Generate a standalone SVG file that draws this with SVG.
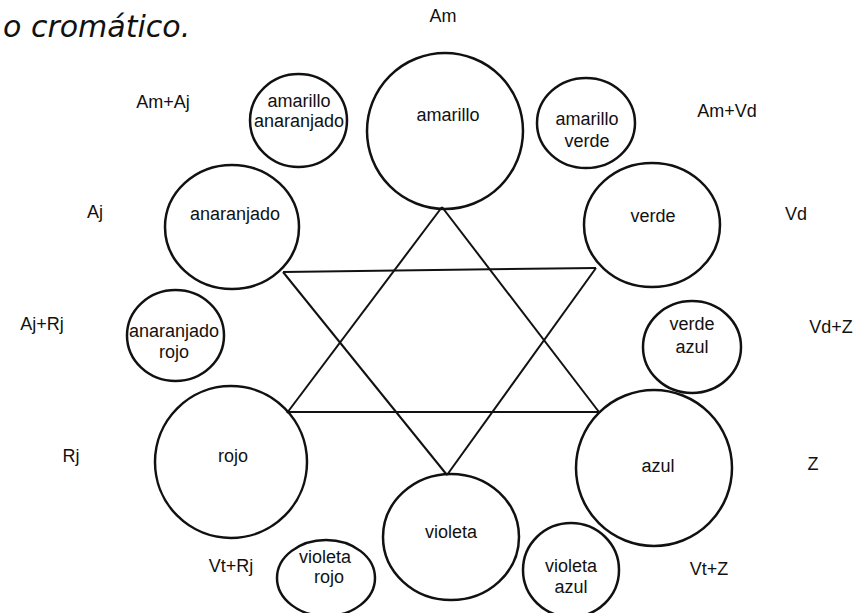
<svg xmlns="http://www.w3.org/2000/svg" width="855" height="613" viewBox="0 0 855 613">
<style>
.c{fill:none;stroke:#111;stroke-width:2.5}
.l{stroke:#111;stroke-width:2;fill:none}
text{font-family:"Liberation Sans",Arial,sans-serif;font-size:18px;fill:#111;text-anchor:middle}
.t{font-family:"DejaVu Sans",sans-serif;font-style:italic;font-size:30px;text-anchor:start}
</style>
<rect width="855" height="613" fill="#fff"/>
<text class="t" x="3" y="37">o cromático.</text>
<g id="connectors">
<line class="l" x1="442" y1="207" x2="287" y2="413"/>
<line class="l" x1="442" y1="207" x2="599" y2="412"/>
<line class="l" x1="287" y1="412" x2="599" y2="412"/>
<line class="l" x1="283" y1="272" x2="596" y2="268"/>
<line class="l" x1="283" y1="272" x2="447" y2="475"/>
<line class="l" x1="596" y1="268" x2="447" y2="475"/>
</g>
<g id="amarillo"><circle class="c" cx="445" cy="131" r="78"/><text x="448" y="121">amarillo</text></g>
<g id="amarillo-anaranjado"><ellipse class="c" cx="298.5" cy="120.5" rx="48.5" ry="46.5"/><text x="299" y="107">amarillo</text><text x="299" y="127">anaranjado</text></g>
<g id="amarillo-verde"><ellipse class="c" cx="586" cy="123" rx="49" ry="45"/><text x="587" y="125">amarillo</text><text x="587" y="147">verde</text></g>
<g id="anaranjado"><ellipse class="c" cx="232" cy="227" rx="67" ry="62"/><text x="235" y="220">anaranjado</text></g>
<g id="verde"><ellipse class="c" cx="652" cy="225" rx="68" ry="62"/><text x="653" y="222">verde</text></g>
<g id="anaranjado-rojo"><ellipse class="c" cx="175.5" cy="335.5" rx="48.5" ry="45.5"/><text x="174" y="337">anaranjado</text><text x="174" y="358">rojo</text></g>
<g id="verde-azul"><ellipse class="c" cx="692" cy="347" rx="49" ry="46"/><text x="692" y="330">verde</text><text x="692" y="353">azul</text></g>
<g id="rojo"><circle class="c" cx="231" cy="462" r="76"/><text x="233" y="462">rojo</text></g>
<g id="azul"><circle class="c" cx="654" cy="468" r="78"/><text x="658" y="472">azul</text></g>
<g id="violeta"><ellipse class="c" cx="451" cy="537" rx="68" ry="63"/><text x="451" y="538">violeta</text></g>
<g id="violeta-rojo"><ellipse class="c" cx="326" cy="578" rx="49" ry="38"/><text x="325" y="563">violeta</text><text x="329" y="583">rojo</text></g>
<g id="violeta-azul"><ellipse class="c" cx="571" cy="570" rx="48" ry="47"/><text x="571" y="572">violeta</text><text x="571" y="593">azul</text></g>
<g id="labels">
<text x="443" y="22">Am</text>
<text x="163" y="108">Am+Aj</text>
<text x="727" y="117">Am+Vd</text>
<text x="95" y="218">Aj</text>
<text x="796" y="220">Vd</text>
<text x="42" y="330">Aj+Rj</text>
<text x="831" y="333">Vd+Z</text>
<text x="71" y="462">Rj</text>
<text x="813" y="470">Z</text>
<text x="231" y="572">Vt+Rj</text>
<text x="709" y="575">Vt+Z</text>
</g>
</svg>
